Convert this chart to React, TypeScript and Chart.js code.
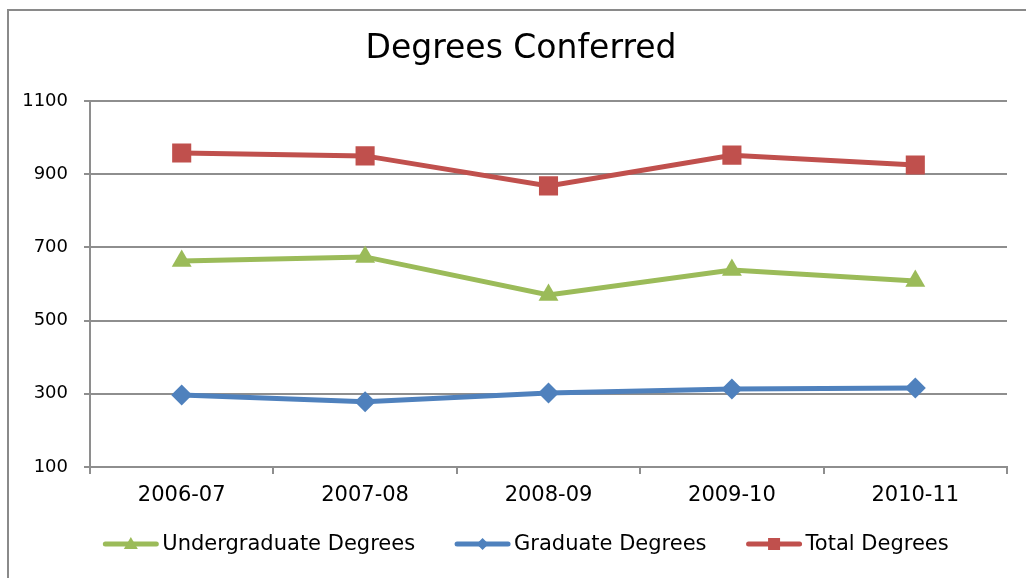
import React, { useEffect, useRef } from "react";
import { Chart, registerables } from "chart.js";

Chart.register(...registerables);

const categories = ["2006-07", "2007-08", "2008-09", "2009-10", "2010-11"];
const undergraduate = [663, 674, 570, 638, 608];
const graduate = [297, 278, 302, 313, 316];
const total = [958, 950, 868, 952, 925];
const yTicks = [100, 300, 500, 700, 900, 1100];
const titleText = "Degrees Conferred";

const GREEN = "#9BBB59";
const BLUE = "#4F81BD";
const RED = "#C0504D";
const GRID = "#8e8e8e";
const FONT = "'DejaVu Sans', sans-serif";

const legendItems = [
  { label: "Undergraduate Degrees", color: GREEN, marker: "triangle" },
  { label: "Graduate Degrees", color: BLUE, marker: "diamond" },
  { label: "Total Degrees", color: RED, marker: "square" },
];

const titleLegendPlugin = {
  id: "titleLegend",
  afterDraw(chart: any) {
    const ctx = chart.ctx as CanvasRenderingContext2D;
    ctx.save();
    // title
    ctx.font = `33px ${FONT}`;
    ctx.textAlign = "center";
    ctx.textBaseline = "middle";
    ctx.fillStyle = "#000";
    ctx.fillText(titleText, 521, 49);

    // legend
    ctx.font = `21px ${FONT}`;
    ctx.textBaseline = "middle";
    const lineLen = 55;
    const gapText = 4;
    const gapItems = 40;
    const widths = legendItems.map((it) => lineLen + gapText + ctx.measureText(it.label).width);
    const totalW = widths.reduce((a, b) => a + b, 0) + gapItems * (legendItems.length - 1);
    let x = 526 - totalW / 2;
    const y = 544;
    legendItems.forEach((it, i) => {
      ctx.strokeStyle = it.color;
      ctx.lineWidth = 5;
      ctx.lineCap = "round";
      ctx.beginPath();
      ctx.moveTo(x + 2, y);
      ctx.lineTo(x + lineLen - 2, y);
      ctx.stroke();
      const cx = x + lineLen / 2;
      ctx.fillStyle = it.color;
      ctx.beginPath();
      if (it.marker === "triangle") {
        ctx.moveTo(cx, y - 7);
        ctx.lineTo(cx + 7, y + 5);
        ctx.lineTo(cx - 7, y + 5);
      } else if (it.marker === "diamond") {
        ctx.moveTo(cx, y - 6);
        ctx.lineTo(cx + 6, y);
        ctx.lineTo(cx, y + 6);
        ctx.lineTo(cx - 6, y);
      } else {
        ctx.rect(cx - 6, y - 6, 12, 12);
      }
      ctx.closePath();
      ctx.fill();
      ctx.fillStyle = "#000";
      ctx.textAlign = "left";
      ctx.fillText(it.label, x + lineLen + gapText, y + 1);
      x += widths[i] + gapItems;
    });
    ctx.restore();
  },
};

export default function App() {
  const ref = useRef<HTMLCanvasElement | null>(null);

  useEffect(() => {
    if (!ref.current) return;
    const chart = new Chart(ref.current, {
      type: "line",
      data: {
        labels: categories,
        datasets: [
          {
            label: "Undergraduate Degrees",
            data: undergraduate,
            borderColor: GREEN,
            backgroundColor: GREEN,
            borderWidth: 5,
            pointStyle: "triangle",
            pointRadius: 11.5,
            pointBorderWidth: 0,
            pointBackgroundColor: GREEN,
            tension: 0,
          },
          {
            label: "Graduate Degrees",
            data: graduate,
            borderColor: BLUE,
            backgroundColor: BLUE,
            borderWidth: 5,
            pointStyle: "rectRot",
            pointRadius: 10.5,
            pointBorderWidth: 0,
            pointBackgroundColor: BLUE,
            tension: 0,
          },
          {
            label: "Total Degrees",
            data: total,
            borderColor: RED,
            backgroundColor: RED,
            borderWidth: 5,
            pointStyle: "rect",
            pointRadius: 13.5,
            pointBorderWidth: 0,
            pointBackgroundColor: RED,
            tension: 0,
          },
        ],
      },
      options: {
        animation: false,
        responsive: false,
        maintainAspectRatio: false,
        layout: { padding: { left: 0, right: 19, top: 101, bottom: 0 } },
        plugins: {
          legend: { display: false },
          tooltip: { enabled: false },
          title: { display: false },
        },
        scales: {
          x: {
            type: "category",
            offset: true,
            afterFit: (scale: any) => {
              scale.height = 111;
            },
            border: { display: true, color: GRID, width: 2 },
            grid: {
              display: true,
              offset: true,
              drawOnChartArea: false,
              drawTicks: true,
              tickLength: 7,
              color: GRID,
              lineWidth: 2,
            },
            ticks: {
              color: "#000",
              font: { family: FONT, size: 21 },
              padding: 9,
              maxRotation: 0,
            },
          },
          y: {
            min: 100,
            max: 1100,
            afterFit: (scale: any) => {
              scale.width = 90;
            },
            afterBuildTicks: (scale: any) => {
              scale.ticks = yTicks.map((v) => ({ value: v }));
            },
            border: { display: true, color: GRID, width: 2 },
            grid: {
              color: GRID,
              lineWidth: 2,
              drawTicks: true,
              tickLength: 6,
            },
            ticks: {
              color: "#000",
              font: { family: FONT, size: 18 },
              padding: 16,
              callback: (v: any) => String(v),
            },
          },
        },
      },
      plugins: [titleLegendPlugin],
    });
    return () => chart.destroy();
  }, []);

  return (
    <div
      style={{
        position: "fixed",
        left: 0,
        top: 0,
        width: 1026,
        height: 578,
        background: "#fff",
        overflow: "hidden",
      }}
    >
      <div
        style={{
          position: "absolute",
          left: 7,
          top: 9,
          width: 1040,
          height: 600,
          border: "2px solid #8a8a8a",
          boxSizing: "border-box",
        }}
      />
      <canvas
        ref={ref}
        width={1026}
        height={578}
        style={{ position: "absolute", left: 0, top: 0, width: 1026, height: 578 }}
      />
    </div>
  );
}
